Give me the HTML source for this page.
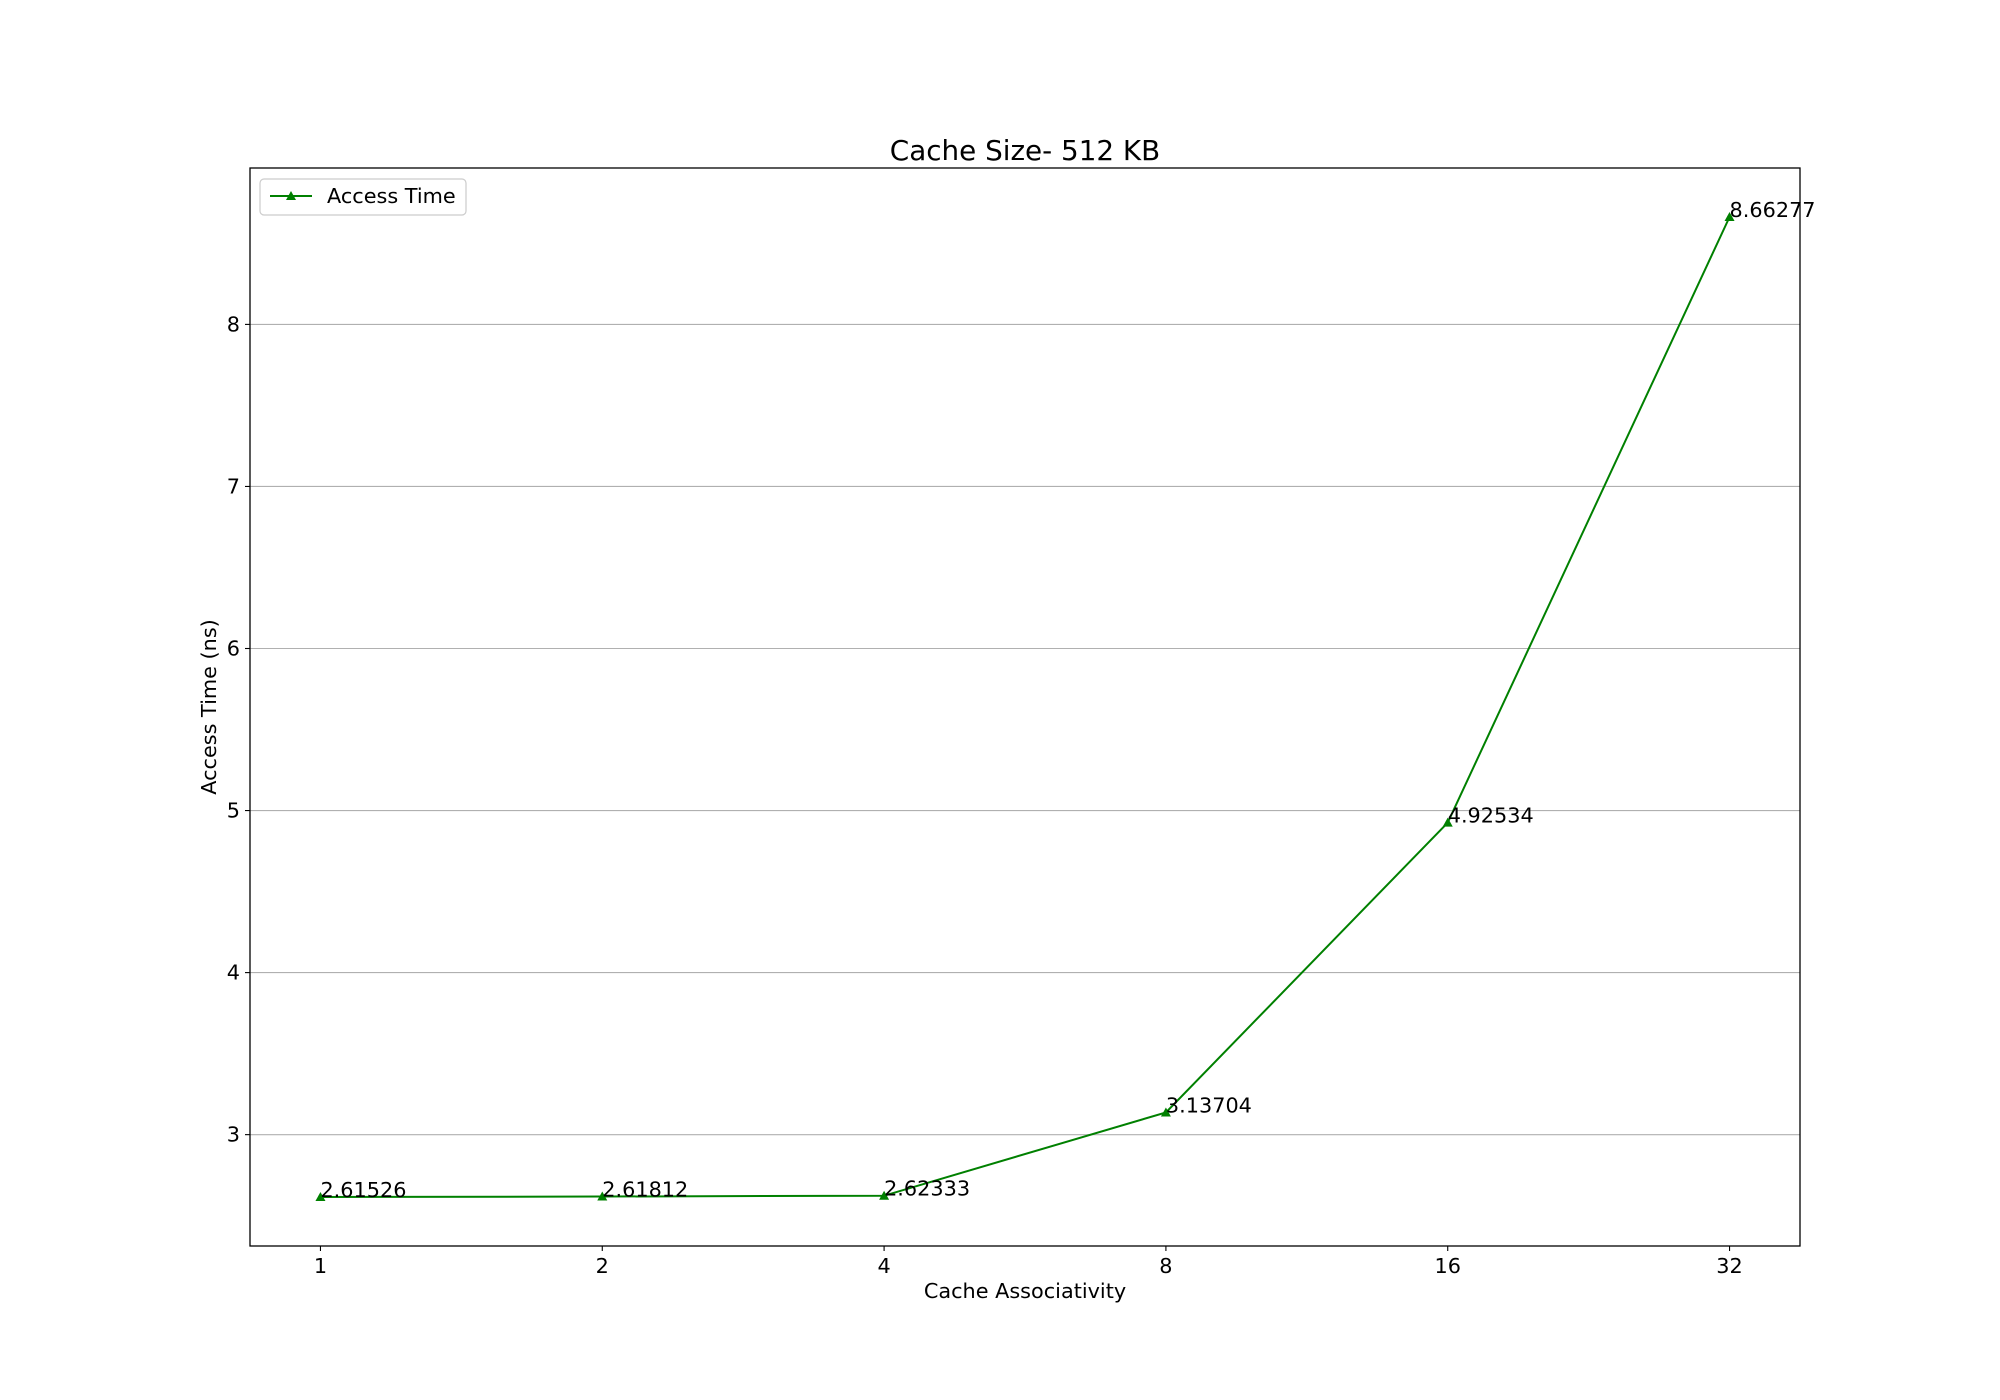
<!DOCTYPE html>
<html><head><meta charset="utf-8"><style>
html,body{margin:0;padding:0;background:#fff;}
svg{display:block;font-family:"DejaVu Sans","Liberation Sans",sans-serif;}
</style></head><body>
<svg id="chart" width="2000" height="1400" viewBox="0 0 2000 1400">
<rect width="2000" height="1400" fill="#fff"/>
<g id="grid"></g>
<g id="series"></g>
<g id="ticks"></g>
<rect x="250" y="168" width="1550" height="1078" fill="none" stroke="#000" stroke-width="1.3"/>
<text x="1025" y="160" font-size="27.8" text-anchor="middle">Cache Size- 512 KB</text>
<text x="1025" y="1298" font-size="20.8" text-anchor="middle">Cache Associativity</text>
<text x="0" y="0" font-size="20.8" text-anchor="middle" transform="translate(216,707) rotate(-90)">Access Time (ns)</text>
<g>
<rect x="260" y="179" width="206" height="36" rx="4" fill="#fff" stroke="#ccc" stroke-width="1.2"/>
<line x1="270" y1="196" x2="312" y2="196" stroke="#008000" stroke-width="2"/>
<polygon points="291,191 296,200 286,200" fill="#008000"/>
<text x="327" y="203" font-size="20.8">Access Time</text>
</g>
</svg>
<script>
const categories = ["1","2","4","8","16","32"];
const accessTime = [2.61526, 2.61812, 2.62333, 3.13704, 4.92534, 8.66277];
const yTicks = [3,4,5,6,7,8];
const labels = ["2.61526","2.61812","2.62333","3.13704","4.92534","8.66277"];

const L=250,R=1800,T=168,B=1246;
const n=categories.length;
const xmin=-0.25, xmax=n-1+0.25;
const dmin=Math.min(...accessTime), dmax=Math.max(...accessTime);
const pad=(dmax-dmin)*0.05;
const ymin=dmin-pad, ymax=dmax+pad;
const xs=i=>L+(i-xmin)/(xmax-xmin)*(R-L);
const ys=v=>B-(v-ymin)/(ymax-ymin)*(B-T);
const NS="http://www.w3.org/2000/svg";
function mk(tag,attrs,parent){const e=document.createElementNS(NS,tag);for(const k in attrs)e.setAttribute(k,attrs[k]);parent.appendChild(e);return e;}
const grid=document.getElementById('grid'),ticks=document.getElementById('ticks'),series=document.getElementById('series');
yTicks.forEach(v=>{
  const y=ys(v);
  const g=mk('line',{x1:L,x2:R,y1:y,y2:y,stroke:'#b0b0b0','stroke-width':1.1},grid);
  
  
  const t=mk('line',{x1:L-5,x2:L,y1:y,y2:y,stroke:'#000','stroke-width':1.1},ticks);
  
  
  const lb=mk('text',{x:L-10,y:y+7,'font-size':20.8,'text-anchor':'end'},ticks);
  lb.textContent=v;
  
  
});
categories.forEach((c,i)=>{
  const x=xs(i);
  const t=mk('line',{x1:x,x2:x,y1:B,y2:B+5,stroke:'#000','stroke-width':1.1},ticks);
  
  
  const lb=mk('text',{x:x,y:B+27,'font-size':20.8,'text-anchor':'middle'},ticks);
  lb.textContent=c;
  
  
});
const pts=accessTime.map((v,i)=>xs(i)+','+ys(v)).join(' ');
const line=mk('polyline',{points:pts,fill:'none',stroke:'#008000','stroke-width':2},series);


accessTime.forEach((v,i)=>{
  const x=xs(i),y=ys(v);
  const m=mk('polygon',{points:`${x},${y-5} ${x+5},${y+4} ${x-5},${y+4}`,fill:'#008000'},series);
  
  
  const a=mk('text',{x:x,y:y,'font-size':20.8},series);
  a.textContent=labels[i];
  
  
});
</script>
</body></html>
